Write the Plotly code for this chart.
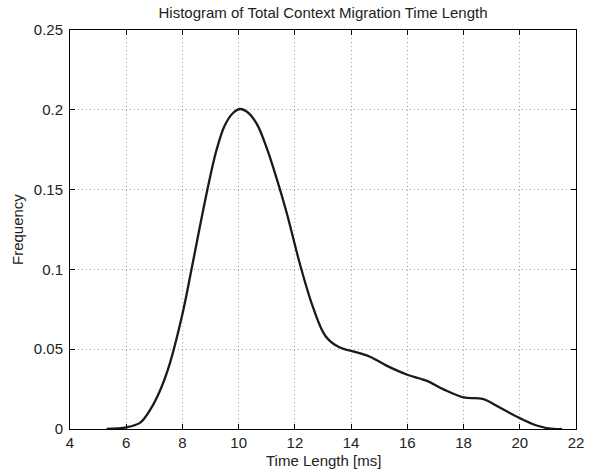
import plotly.graph_objects as go

time_ms = [5.3, 6.0, 6.5, 6.85, 7.2, 7.55, 8.0, 8.3, 8.6, 8.9, 9.2, 9.5, 9.8, 10.05,
           10.35, 10.65, 11.0, 11.35, 11.7, 12.2, 12.65, 13.1, 13.6, 14.0,
           14.67, 15.26, 16.0, 16.68, 17.27, 18.0, 18.68, 19.27, 20.0, 20.6, 21.2, 21.5]
frequency = [0.0, 0.001, 0.004, 0.012, 0.024, 0.041, 0.072, 0.098, 0.125, 0.151, 0.174,
             0.19, 0.198, 0.2005, 0.198, 0.191, 0.176, 0.157, 0.136, 0.102, 0.076,
             0.058, 0.051, 0.049, 0.0453, 0.0397, 0.034, 0.0303, 0.025, 0.0198, 0.0189,
             0.0136, 0.0068, 0.0022, 0.0, 0.0]

x_ticks = [4, 6, 8, 10, 12, 14, 16, 18, 20, 22]
y_ticks = [0, 0.05, 0.1, 0.15, 0.2, 0.25]
y_tick_text = ["0", "0.05", "0.1", "0.15", "0.2", "0.25"]

FONT = "Liberation Sans, Arial, sans-serif"
W, H = 596, 473
ML, MR, MT, MB = 70, 20, 30, 44          # plot area x 70-576, y 30-429
PW, PH = W - ML - MR, H - MT - MB

fig = go.Figure()
fig.add_trace(go.Scatter(x=time_ms, y=frequency, mode="lines",
                         line=dict(color="#1a1a1a", width=2.3, shape="spline", smoothing=1.0),
                         showlegend=False, hoverinfo="skip"))

axis_common = dict(showline=True, linecolor="black", linewidth=1, mirror="ticks",
                   ticks="inside", ticklen=5, tickcolor="black", automargin=False,
                   showgrid=True, gridcolor="#a0a0a0", griddash="1px,3px", gridwidth=1,
                   zeroline=False, tickfont=dict(family=FONT, size=15, color="#222"))

fig.update_layout(
    template="none",
    width=W, height=H,
    margin=dict(l=ML, r=MR, t=MT, b=MB, autoexpand=False),
    paper_bgcolor="white", plot_bgcolor="white",
    title=dict(text="Histogram of Total Context Migration Time Length",
               x=0.5, xanchor="center", xref="paper", y=1 - 12.5/H, yanchor="middle",
               font=dict(family=FONT, size=15, color="#222")),
    xaxis=dict(range=[4, 22], tickvals=x_ticks, ticktext=[str(t) for t in x_ticks],
               **axis_common),
    yaxis=dict(range=[0, 0.25], tickvals=y_ticks, ticktext=y_tick_text,
               ticklabelstandoff=3, **axis_common),
    annotations=[
        dict(text="Time Length [ms]", xref="paper", yref="paper", x=0.5,
             y=(H - MB - 460.5) / PH, xanchor="center", yanchor="middle", showarrow=False,
             font=dict(family=FONT, size=15, color="#222")),
        dict(text="Frequency", xref="paper", yref="paper", x=(17.5 - ML) / PW,
             y=0.5, xanchor="center", yanchor="middle", textangle=-90, showarrow=False,
             font=dict(family=FONT, size=15, color="#222")),
    ],
)

fig.write_html("out.html", config={"displayModeBar": False},
               post_script="document.body.style.margin='0px';")
